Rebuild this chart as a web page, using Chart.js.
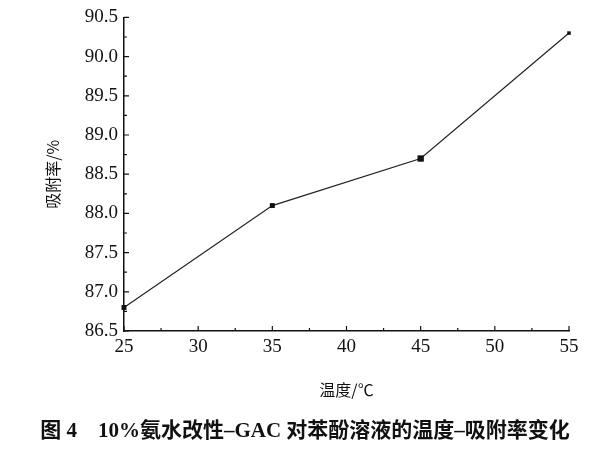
<!DOCTYPE html>
<html>
<head>
<meta charset="utf-8">
<script src="https://cdn.jsdelivr.net/npm/chart.js@4"></script>
<style>
  html, body { margin: 0; padding: 0; background: #fff; }
  #wrap { width: 600px; height: 450px; }
</style>
</head>
<body>
<div id="wrap"><canvas id="tempChart" width="600" height="450"></canvas></div>
<script>
// 数据
const temps = [25, 35, 45, 55];
const adsorption = [86.8, 88.1, 88.7, 90.3];
const xTicks = [25, 30, 35, 40, 45, 50, 55];
const yTicks = [86.5, 87.0, 87.5, 88.0, 88.5, 89.0, 89.5, 90.0, 90.5];
const caption = '图 4    10%氨水改性–GAC 对苯酚溶液的温度–吸附率变化';

const serif = '"Liberation Serif", "Noto Sans CJK SC", serif';
const cjk = '"Noto Sans CJK SC", sans-serif';

// 朝内的刻度线 + 图题
const innerTicks = {
  id: 'innerTicks',
  afterDraw(chart) {
    const ctx = chart.ctx;
    const x = chart.scales.x, y = chart.scales.y;
    const area = chart.chartArea;
    ctx.save();
    ctx.strokeStyle = '#111';
    ctx.lineWidth = 1.2;
    ctx.beginPath();
    for (let i = 0; i < xTicks.length; i++) {
      const px = x.getPixelForValue(xTicks[i]);
      ctx.moveTo(px, area.bottom);
      ctx.lineTo(px, area.bottom - 5);
      if (i < xTicks.length - 1) {
        const mx = x.getPixelForValue((xTicks[i] + xTicks[i + 1]) / 2);
        ctx.moveTo(mx, area.bottom);
        ctx.lineTo(mx, area.bottom - 3);
      }
    }
    for (let i = 0; i < yTicks.length; i++) {
      const py = y.getPixelForValue(yTicks[i]);
      ctx.moveTo(area.left, py);
      ctx.lineTo(area.left + 5, py);
      if (i < yTicks.length - 1) {
        const my = y.getPixelForValue((yTicks[i] + yTicks[i + 1]) / 2);
        ctx.moveTo(area.left, my);
        ctx.lineTo(area.left + 3, my);
      }
    }
    ctx.stroke();

    ctx.fillStyle = '#111';
    ctx.font = 'bold 21px ' + serif;
    ctx.textAlign = 'center';
    ctx.textBaseline = 'middle';
    ctx.fillText(caption, 305, 432);
    ctx.restore();
  }
};

const ctx = document.getElementById('tempChart').getContext('2d');
const chart = new Chart(ctx, {
  type: 'line',
  data: {
    datasets: [{
      data: temps.map((t, i) => ({ x: t, y: adsorption[i] })),
      borderColor: '#222',
      borderWidth: 1.2,
      backgroundColor: '#111',
      pointStyle: 'rect',
      pointRadius: [3.5, 3.5, 4.5, 2.5],
      pointBorderWidth: 0,
      tension: 0,
      clip: false
    }]
  },
  options: {
    responsive: false,
    animation: false,
    layout: { padding: { top: 15, right: 31, left: 0, bottom: 40 } },
    plugins: {
      legend: { display: false },
      tooltip: { enabled: false }
    },
    scales: {
      x: {
        type: 'linear',
        min: 25,
        max: 55,
        afterFit(scale) { scale.height = 79; },
        afterBuildTicks(scale) { scale.ticks = xTicks.map(v => ({ value: v })); },
        grid: { display: false, drawTicks: false },
        border: { display: true, color: '#111', width: 1.5 },
        ticks: {
          color: '#111',
          padding: 5,
          font: { family: serif, size: 19 },
          maxRotation: 0
        },
        title: {
          display: true,
          text: '温度/℃',
          color: '#111',
          font: { family: cjk, size: 16 },
          padding: { top: 0, bottom: 10 }
        }
      },
      y: {
        min: 86.5,
        max: 90.5,
        afterFit(scale) { scale.width = 124; },
        afterBuildTicks(scale) { scale.ticks = yTicks.map(v => ({ value: v })); },
        grid: { display: false, drawTicks: false },
        border: { display: true, color: '#111', width: 1.5 },
        ticks: {
          color: '#111',
          padding: 6,
          font: { family: serif, size: 19 },
          callback: v => v.toFixed(1)
        },
        title: {
          display: true,
          text: '吸附率/%',
          color: '#111',
          font: { family: cjk, size: 16 },
          padding: { top: 43, bottom: 0 }
        }
      }
    }
  },
  plugins: [innerTicks]
});
</script>
</body>
</html>
